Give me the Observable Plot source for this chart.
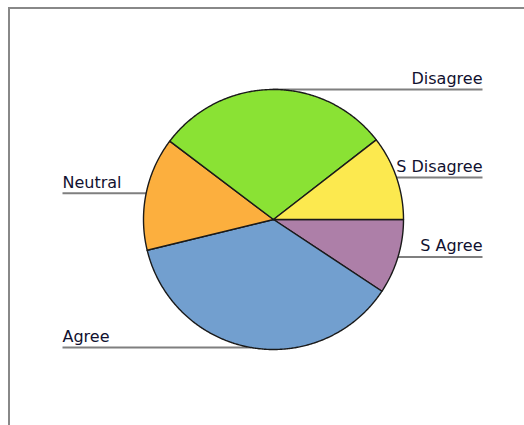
<!DOCTYPE html>
<html><head><meta charset="utf-8">
<script src="https://cdn.jsdelivr.net/npm/d3@7"></script>
<script src="https://cdn.jsdelivr.net/npm/@observablehq/plot@0.6"></script>
<style>
html,body{margin:0;padding:0;background:#fff;overflow:hidden;width:524px;height:425px}
#frame{position:absolute;left:8px;top:7px;width:600px;height:600px;border:2px solid #888;box-sizing:border-box}
#chart{position:absolute;left:0;top:0}
</style></head><body>
<div id="frame"></div><div id="chart"></div>
<script>
// Data
const categories = ["S Agree", "Agree", "Neutral", "Disagree", "S Disagree"];
const values = [9.3, 36.9, 14.1, 29.2, 10.5];
const colors = ["#ad7fa8", "#729fcf", "#fcaf3e", "#8ae234", "#fce94f"];

// Layout (pixels)
const W = 524, H = 425, CX = 273, CY = 219, R = 130;
const RIGHT_X = 482, LEFT_X = 62;

// Pie geometry from the data (clockwise from 3 o'clock)
const total = d3.sum(values);
let acc = 0;
const slices = categories.map((c, i) => {
  const a0 = acc / total * 2 * Math.PI;
  acc += values[i];
  const a1 = acc / total * 2 * Math.PI;
  return {category: c, value: values[i], a0, a1};
});
const piePts = [];
for (const s of slices) {
  piePts.push({category: s.category, x: 0, y: 0});
  const n = Math.max(2, Math.ceil((s.a1 - s.a0) / (Math.PI / 360)));
  for (let k = 0; k <= n; k++) {
    const a = s.a0 + (s.a1 - s.a0) * k / n;
    piePts.push({category: s.category, x: Math.cos(a), y: -Math.sin(a)});
  }
  piePts.push({category: s.category, x: 0, y: 0});
}
const labels = slices.map(s => {
  const m = (s.a0 + s.a1) / 2;
  const px = Math.cos(m), py = -Math.sin(m);
  const right = px > -0.1;
  return {category: s.category, x1: px, y1: py, x2: ((right ? RIGHT_X : LEFT_X) - CX) / R, y2: py, anchor: right ? "end" : "start"};
});

const font = "DejaVu Sans, Verdana, sans-serif";
const chart = Plot.plot({
  width: W, height: H,
  margin: 0,
  x: {type: "linear", domain: [-CX / R, (W - CX) / R], axis: null},
  y: {type: "linear", domain: [-(H - CY) / R, CY / R], axis: null},
  color: {domain: categories, range: colors},
  style: {background: "transparent"},
  marks: [
    Plot.link(labels, {x1: "x1", y1: "y1", x2: "x2", y2: "y2", stroke: "#7f7f7f", strokeWidth: 2, strokeLinecap: "butt"}),
    Plot.line(piePts, {x: "x", y: "y", z: "category", fill: "category", stroke: "#1a1a1a", strokeWidth: 1.4, curve: "linear"}),
    Plot.text(labels.filter(d => d.anchor === "end"), {x: "x2", y: "y2", text: "category", textAnchor: "end", lineAnchor: "bottom", dy: -5.5, fontSize: 16, fontFamily: font, fill: "#111130"}),
    Plot.text(labels.filter(d => d.anchor === "start"), {x: "x2", y: "y2", text: "category", textAnchor: "start", lineAnchor: "bottom", dy: -5.5, fontSize: 16, fontFamily: font, fill: "#111130"})
  ]
});
document.getElementById("chart").appendChild(chart);
</script>
</body></html>
